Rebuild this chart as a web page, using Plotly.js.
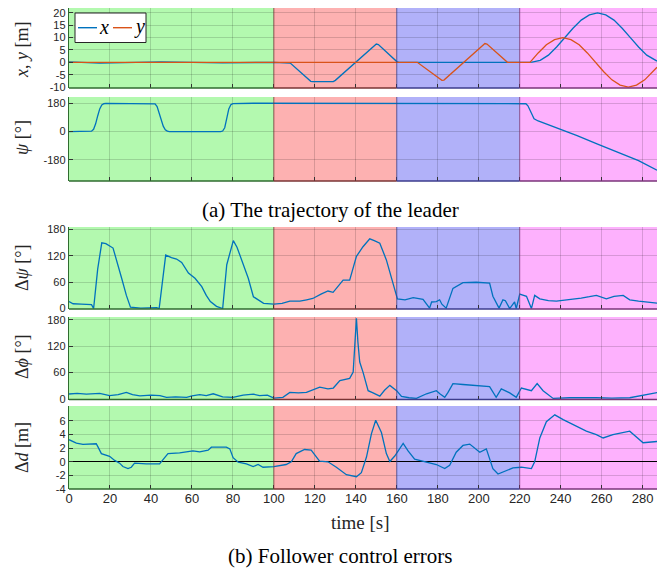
<!DOCTYPE html>
<html><head><meta charset="utf-8">
<script src="https://cdn.plot.ly/plotly-3.0.1.min.js"></script>
<style>body{margin:0;padding:0;background:#fff}#chart{width:658px;height:572px}</style>
</head><body><div id="chart"></div>
<script>
// ---------- data ----------
const tX = [0, 15, 45, 75, 100, 107, 108, 118, 119, 129, 130, 150, 151, 160, 161, 224, 226, 230, 234, 238, 242, 246, 250, 254, 258, 262, 266, 270, 274, 278, 282, 286, 287];
const posX = [0.2, -0.3, 0.2, -0.2, 0, 0, -0.3, -7.7, -7.8, -7.8, -7.3, 7.4, 7.2, 0.3, 0, 0, 0.1, 0.8, 2.9, 6.2, 10, 13.8, 17.1, 19.2, 20, 19.2, 17.1, 13.8, 10, 6.2, 2.9, 0.8, 0.5];
const tY = [0, 100, 160, 170, 182, 183, 203, 204, 214, 224, 225, 229, 233, 237, 241, 245, 249, 253, 257, 261, 265, 269, 273, 277, 281, 285, 287];
const posY = [0, 0, 0, 0, -7.3, -7.2, 7.6, 7.4, 0, 0, 0, 3.8, 7.1, 9.2, 10, 9.2, 7.1, 3.8, 0, -3.8, -7.1, -9.2, -10, -9.2, -7.1, -3.8, -2];

const tPsi = [0,5,10,11,12,13,14,15,16,17,18,30,40,42,43,44,45,46,47,48,49,60,74,75,76,77,78,79,80,90,120,150,180,210,222,223,224,225,226,227,229,238,248,258,268,278,287];
const psi  = [0,2,0,3,15,50,100,145,170,178,180,178,180,177,160,120,75,35,12,3,0,-1,0,4,25,85,145,172,179,181,180,182,180,181,180,178,165,135,105,82,68,25,-25,-80,-130,-185,-246];

const tDpsi = [0,2,6,11,12,14,16,18,21.5,24,25.7,28,30,35,42.8,44,47.2,50,52.5,55,58.3,61.5,64.8,67,69,72,75,77,80.2,82,84.3,87.5,90,95,100,104,107.8,112.7,116,119,123,126.4,128.9,131,133.8,137,140.3,143.5,146.8,149,151.7,154.9,158.2,160.3,164,168,172.8,176,177,179.3,180.9,182,184.1,187.4,192.3,198.8,205.3,206.9,209.9,211.8,213,215.1,217.5,218.3,220,223.3,225.7,227.3,229.8,234,237.9,242,246,250,254,257.4,262.3,266,270.5,273.7,278,283,287.5];
const dPsi  = [16,11,10,9,0,90,150,148,138,100,69,30,3,1,2,0,122,116,113,105,81,69,50,30,16,5,0,100,155,140,111,69,27,12,10,12,17,17,20,23,33,40,37,50,65,65,119,141,159,155,149,111,58,22,20,25,21,1,15,16,20,10,1,46,59,60,58,28,1,20,18,0,15,0,33,28,0,30,22,18,17,19,21,24,27,30,22,28,30,20,17,14,12];

const tDphi = [0,4,8.5,12,15,19.8,24,28,31,34.6,40,44.4,47.6,52,57.4,60,63.8,67,70.4,75,80,85,90,93,96.8,100,104.4,107.8,112,115.9,119,122.4,126.4,129,132.2,135,137,138.7,139.5,140.3,141,141.9,143.5,146,148.4,151.7,154,156.6,159.9,162.3,166,169.6,174.5,179.3,181,183.4,185,187.4,192.3,198.8,205.3,208.5,211,215.1,218.3,220.8,225.7,228.5,231.4,236.3,244.4,257.4,265,273.7,280.2,287.5];
const dPhi  = [11.5,13,11,12,13,8,10,15,10,7,9,8,4,5,4,7,10,8,12,5,4,9,11,8,9,2,4,15,14,15,20,27,23,25,42,45,47,61,120,183,130,84,61,19,14,6.5,20,31,19,6,3,1.5,12,19,12,4,15,35,33,30,28,4,23,14,4,25,19,35,19,1.5,3,3,2,3,8,15];

const tDd = [0,3.6,6.8,13.3,14.2,15.8,19.8,22.3,24.7,26.3,28.8,30.4,32,37.7,44.2,45.9,48.3,54,60.5,63.8,67.9,69.5,76.8,78.5,80.1,82.6,86.6,89.9,92.3,94.7,100,106,108.5,110.9,115,118.2,120.7,122.3,126.4,130.5,135.4,140.3,142.7,145.2,147.6,149.7,152.5,154.9,156.6,159,163.1,165.5,168.7,172.8,176,179.3,183.4,185.8,189,192.3,195.6,200.5,203.7,205.3,206.9,209.4,213.5,216.7,220.8,225.7,227.3,229.8,233,237.1,241.2,247.7,252.5,257.4,260.7,265.5,273.7,280.2,287.5];
const dD  = [3.25,2.75,2.55,2.65,2.15,1.2,0.8,0.2,-0.2,-0.7,-1.0,-0.8,-0.2,-0.3,-0.3,0.3,1.2,1.3,1.6,1.45,1.7,2.15,2.15,1.9,0.6,-0.05,-0.3,-0.7,-0.4,-0.8,-0.7,-0.4,0,1.2,1.8,1.7,0.8,0.1,0,-0.8,-1.9,-2.2,-1.6,0.7,4.1,6.1,4.3,1.2,0.05,0.85,2.7,1.6,0.4,0.1,-0.2,-0.4,-1.0,-0.5,1.4,2.4,2.6,1.4,1.9,0.4,-1.0,-1.8,-1.3,-0.9,-0.8,-1.0,0,3.5,5.9,6.9,6.2,5.2,4.5,4.0,3.5,4.0,4.5,2.8,3.0];

const xTicks = [0,20,40,60,80,100,120,140,160,180,200,220,240,260,280];
const regionStart = [0, 100, 160, 220];
const regionEnd = [100, 160, 220, 290];
const regionFill = ['#b3f9af', '#fdb1b1', '#b1b1f9', '#fdb1fd'];
const regionEdge = ['#2f6b2f', '#7a3434', '#3c3c8c', '#7a347a'];

const yTicks1 = [-10,-5,0,5,10,15,20];
const yTicks2 = [-180,0,180];
const yTicks3 = [0,60,120,180];
const yTicks5 = [-4,-2,0,2,4,6];
const legendNames = ['x', 'y'];

// ---------- layout helpers ----------
const W = 658, H = 572;
const fx = px => px / W;
const fy = py => 1 - py / H;
const xDom = [fx(69), fx(657)];
const blue = '#0072BD', orange = '#D95319';
const tickFont = {family: 'Liberation Sans, Arial, sans-serif', size: 11, color: '#262626'};
const serif = 'Liberation Serif, Times New Roman, serif';

const panels = [
  {top: 8, bot: 88, range: [-10.4, 22], tv: yTicks1, title: '<i>x</i>, <i>y</i> [m]', tc: 50},
  {top: 97, bot: 181, range: [-315, 221], tv: yTicks2, title: '<i>ψ</i> [°]', tc: 138},
  {top: 227, bot: 309, range: [-1, 186], tv: yTicks3, title: 'Δ<i>ψ</i> [°]', tc: 268},
  {top: 317, bot: 399.5, range: [-1, 186], tv: yTicks3, title: 'Δ<i>ϕ</i> [°]', tc: 357},
  {top: 406, bot: 489, range: [-4, 8.2], tv: yTicks5, title: 'Δ<i>d</i> [m]', tc: 448}
];

const layout = {
  width: W, height: H,
  margin: {l: 0, r: 0, t: 0, b: 0},
  paper_bgcolor: '#fff', plot_bgcolor: 'rgba(0,0,0,0)',
  showlegend: false,
  shapes: [], annotations: []
};

panels.forEach((p, i) => {
  const n = i + 1;
  const xa = 'xaxis' + (n === 1 ? '' : n), ya = 'yaxis' + (n === 1 ? '' : n);
  const xr = 'x' + (n === 1 ? '' : n), yr = 'y' + (n === 1 ? '' : n);
  layout[xa] = {
    domain: xDom, anchor: yr, range: [0, 287], tickvals: xTicks,
    showticklabels: n === 5, ticks: 'inside', ticklen: 4, tickcolor: '#333',
    showgrid: true, gridcolor: 'rgba(0,0,0,0.15)', gridwidth: 1,
    zeroline: false, showline: false, tickfont: {family: tickFont.family, size: 13, color: '#262626'}
  };
  layout[ya] = {
    domain: [fy(p.bot), fy(p.top)], anchor: xr, range: p.range, tickvals: p.tv,
    ticktext: p.tv.map(v => String(v)),
    ticks: 'inside', ticklen: 4, tickcolor: '#333',
    showgrid: true, gridcolor: 'rgba(0,0,0,0.15)', gridwidth: 1,
    zeroline: n === 5, zerolinecolor: '#000', zerolinewidth: 1.2,
    showline: true, linecolor: '#2f6b2f', linewidth: 1.2, tickfont: tickFont
  };
  regionStart.forEach((s, k) => {
    layout.shapes.push({type: 'rect', xref: xr, yref: yr + ' domain', x0: s, x1: regionEnd[k], y0: 0, y1: 1,
      fillcolor: regionFill[k], line: {width: 0}, layer: 'below'});
    layout.shapes.push({type: 'line', xref: xr, yref: yr + ' domain', x0: s, x1: Math.min(regionEnd[k], 287), y0: 0, y1: 0,
      line: {color: regionEdge[k], width: 1.5}, layer: 'above'});
    if (k > 0) layout.shapes.push({type: 'line', xref: xr, yref: yr + ' domain', x0: s, x1: s, y0: 0, y1: 1,
      line: {color: regionEdge[k], width: 1}, layer: 'above', opacity: 0.7});
  });
  layout.annotations.push({xref: 'paper', yref: 'paper', x: fx(22), y: fy(p.tc), text: p.title,
    textangle: -90, showarrow: false, xanchor: 'center', yanchor: 'middle',
    font: {family: serif, size: 18, color: '#262626'}});
});

// custom legend box (panel 1)
layout.shapes.push({type: 'rect', xref: 'paper', yref: 'paper', x0: fx(75), x1: fx(146), y0: fy(42.5), y1: fy(13),
  fillcolor: '#fff', line: {color: '#262626', width: 1}, layer: 'above'});
const legColors = [blue, orange];
const legX = [78, 113];
legendNames.forEach((nm, k) => {
  layout.shapes.push({type: 'line', xref: 'paper', yref: 'paper', x0: fx(legX[k]), x1: fx(legX[k] + 19), y0: fy(27.7), y1: fy(27.7),
    line: {color: legColors[k], width: 1.4}, layer: 'above'});
  layout.annotations.push({xref: 'paper', yref: 'paper', x: fx(legX[k] + 19), y: fy(27), text: '<i>' + nm + '</i>',
    showarrow: false, xanchor: 'left', yanchor: 'middle', font: {family: serif, size: 20, color: '#000'}});
});

layout.annotations.push({xref: 'paper', yref: 'paper', x: fx(360), y: fy(522), text: 'time [s]', showarrow: false,
  xanchor: 'center', yanchor: 'middle', font: {family: serif, size: 19, color: '#262626'}});
layout.annotations.push({xref: 'paper', yref: 'paper', x: fx(330), y: fy(210), text: '(a) The trajectory of the leader', showarrow: false,
  xanchor: 'center', yanchor: 'middle', font: {family: serif, size: 21, color: '#000'}});
layout.annotations.push({xref: 'paper', yref: 'paper', x: fx(340), y: fy(556), text: '(b) Follower control errors', showarrow: false,
  xanchor: 'center', yanchor: 'middle', font: {family: serif, size: 21, color: '#000'}});

const ln = c => ({color: c, width: 1.3});
const data = [
  {x: tX, y: posX, type: 'scatter', mode: 'lines', name: legendNames[0], line: ln(blue), xaxis: 'x', yaxis: 'y'},
  {x: tY, y: posY, type: 'scatter', mode: 'lines', name: legendNames[1], line: ln(orange), xaxis: 'x', yaxis: 'y'},
  {x: tPsi, y: psi, type: 'scatter', mode: 'lines', line: ln(blue), xaxis: 'x2', yaxis: 'y2'},
  {x: tDpsi, y: dPsi, type: 'scatter', mode: 'lines', line: ln(blue), xaxis: 'x3', yaxis: 'y3'},
  {x: tDphi, y: dPhi, type: 'scatter', mode: 'lines', line: ln(blue), xaxis: 'x4', yaxis: 'y4'},
  {x: tDd, y: dD, type: 'scatter', mode: 'lines', line: ln(blue), xaxis: 'x5', yaxis: 'y5'}
];

Plotly.newPlot('chart', data, layout, {displayModeBar: false, staticPlot: true});
</script></body></html>
